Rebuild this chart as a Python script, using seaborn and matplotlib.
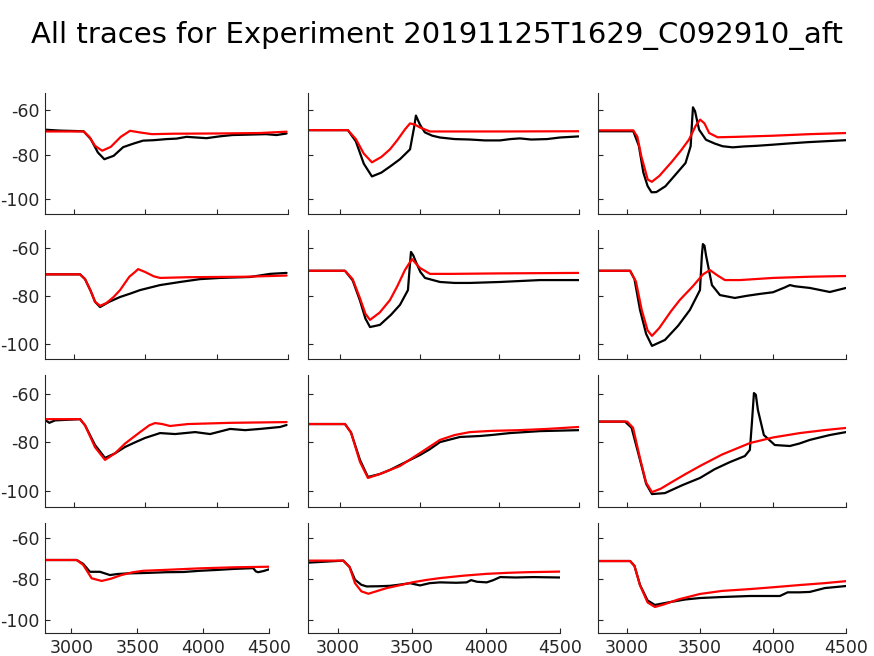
import matplotlib
matplotlib.use("Agg")
import matplotlib.pyplot as plt
import seaborn as sns
import pandas as pd

TITLE = "All traces for Experiment 20191125T1629_C092910_aft"
X_TICKS = [3000, 3500, 4000, 4500]
Y_TICKS = [-100, -80, -60]

# Panel data (black = recorded trace, red = model trace)
P1_BX = [2800, 2900, 3070, 3120, 3170, 3215, 3280, 3347, 3420, 3486, 3560, 3652, 3720, 3790, 3860, 3930, 4020, 4110, 4230, 4346, 4420, 4490]
P1_BY = [-68.8, -69.2, -69.5, -73, -79, -82, -80.5, -76.6, -75, -73.7, -73.5, -73, -72.8, -72, -72.3, -72.6, -71.8, -71.2, -71, -70.8, -71.2, -70.5]
P1_RX = [2800, 3070, 3110, 3150, 3200, 3260, 3330, 3395, 3460, 3548, 3700, 4000, 4300, 4490]
P1_RY = [-69.6, -69.6, -72, -76, -78.2, -76.5, -72, -69.3, -70, -70.8, -70.6, -70.5, -70.3, -69.7]

P2_BX = [2800, 3050, 3100, 3150, 3201, 3260, 3320, 3377, 3440, 3465, 3477, 3502, 3533, 3580, 3628, 3720, 3816, 3910, 4004, 4070, 4129, 4200, 4300, 4380, 4500]
P2_BY = [-69, -69, -74, -84, -89.7, -88, -85, -82, -77.6, -68, -62.5, -66.5, -70, -71.5, -72.3, -73, -73.2, -73.6, -73.6, -73, -72.7, -73.2, -73, -72.3, -71.8]
P2_RX = [2800, 3050, 3100, 3150, 3201, 3260, 3314, 3360, 3408, 3440, 3470, 3502, 3565, 3700, 4000, 4500]
P2_RY = [-69, -69, -73, -79.5, -83.4, -81, -77.6, -73.5, -68.7, -66, -66.5, -67.8, -69.6, -69.6, -69.6, -69.5]

P3_BX = [2800, 3042, 3080, 3111, 3140, 3167, 3200, 3262, 3330, 3400, 3435, 3445, 3451, 3465, 3480, 3493, 3540, 3600, 3654, 3724, 3800, 3890, 4000, 4100, 4233, 4350, 4500]
P3_BY = [-69.5, -69.5, -76, -88, -94, -96.8, -96.7, -94.1, -89, -83.7, -76.2, -65, -58.8, -60.5, -65, -68.8, -73.3, -75, -76.2, -76.7, -76.3, -76, -75.5, -75, -74.4, -74, -73.5]
P3_RX = [2800, 3042, 3070, 3097, 3141, 3169, 3220, 3308, 3370, 3423, 3470, 3500, 3530, 3562, 3620, 3750, 4000, 4250, 4500]
P3_RY = [-69.1, -69.1, -72, -80.7, -91.1, -92.1, -89.5, -83, -78, -73.3, -67, -64.3, -66, -70.3, -72.2, -72, -71.5, -70.8, -70.3]

P4_BX = [2800, 3045, 3080, 3120, 3150, 3185, 3250, 3325, 3400, 3465, 3605, 3745, 3885, 4025, 4235, 4375, 4490]
P4_BY = [-71, -71, -73, -78, -82.5, -84.7, -82.5, -80.5, -79, -77.6, -75.5, -74.2, -73, -72.5, -72.1, -70.8, -70.4]
P4_RX = [2800, 3045, 3080, 3120, 3150, 3185, 3230, 3280, 3325, 3390, 3430, 3451, 3500, 3560, 3605, 3800, 4200, 4490]
P4_RY = [-71, -71, -73, -78, -82.5, -84.2, -83, -80.5, -77.6, -72, -70, -68.8, -70, -71.8, -72.5, -72.2, -72, -71.5]

P5_BX = [2800, 3032, 3080, 3126, 3160, 3189, 3251, 3320, 3377, 3427, 3438, 3446, 3460, 3477, 3505, 3534, 3628, 3720, 3816, 4004, 4255, 4500]
P5_BY = [-69.5, -69.5, -73.5, -82, -89.5, -93.1, -92.2, -88, -83.8, -77.6, -68, -61.6, -63, -65.8, -70, -72.5, -74.2, -74.6, -74.6, -74.2, -73.4, -73.4]
P5_RX = [2800, 3032, 3080, 3126, 3160, 3189, 3250, 3314, 3360, 3408, 3452, 3502, 3565, 3700, 4000, 4500]
P5_RY = [-69.5, -69.5, -73, -81, -87.5, -90.1, -87, -81.8, -76, -69.2, -64.6, -68.3, -70.8, -70.8, -70.6, -70.4]

P6_BX = [2800, 3020, 3050, 3088, 3130, 3170, 3259, 3350, 3430, 3499, 3512, 3519, 3530, 3540, 3581, 3636, 3738, 3820, 3910, 4000, 4080, 4115, 4150, 4252, 4389, 4500]
P6_BY = [-69.5, -69.5, -73, -85.9, -96, -101, -98.5, -92.5, -85.9, -77.6, -63, -58.3, -59, -62.9, -75.5, -79.7, -80.9, -80, -79.2, -78.5, -76.5, -75.5, -76, -76.7, -78.4, -76.7]
P6_RX = [2800, 3020, 3060, 3100, 3140, 3170, 3220, 3300, 3360, 3450, 3520, 3567, 3620, 3670, 3773, 4000, 4250, 4500]
P6_RY = [-69.5, -69.5, -74, -86, -94.5, -96.8, -93.5, -86.5, -81.8, -76, -71, -69.2, -71.5, -73.4, -73.4, -72.5, -72, -71.7]

P7_BX = [2800, 2830, 2870, 3045, 3080, 3150, 3220, 3290, 3360, 3430, 3500, 3605, 3710, 3850, 3955, 4095, 4200, 4305, 4445, 4490]
P7_BY = [-70.8, -72, -71, -70.5, -73, -81.1, -86.4, -84.5, -81.9, -80, -78.2, -76.2, -76.6, -75.8, -76.6, -74.5, -75, -74.5, -73.7, -72.9]
P7_RX = [2800, 3045, 3080, 3150, 3220, 3290, 3360, 3465, 3530, 3570, 3620, 3675, 3800, 4100, 4490]
P7_RY = [-70.5, -70.5, -73, -82, -87.2, -84.5, -80.5, -75.8, -73, -72.1, -72.5, -73.3, -72.5, -72, -71.7]

P8_BX = [2800, 3032, 3070, 3126, 3176, 3250, 3314, 3400, 3502, 3560, 3628, 3753, 3878, 3950, 4067, 4255, 4500]
P8_BY = [-72.5, -72.5, -76, -87.2, -94.2, -93, -91.3, -88.5, -85.2, -83, -79.9, -77.8, -77.4, -77, -76.2, -75.4, -75]
P8_RX = [2800, 3032, 3070, 3126, 3176, 3250, 3377, 3500, 3628, 3720, 3816, 3950, 4129, 4300, 4500]
P8_RY = [-72.5, -72.5, -76, -88, -94.6, -93, -89.7, -84.5, -79, -77, -75.8, -75.3, -75, -74.5, -73.7]

P9_BX = [2800, 2985, 3030, 3088, 3130, 3170, 3259, 3380, 3499, 3600, 3704, 3807, 3841, 3855, 3869, 3882, 3896, 3937, 4012, 4115, 4180, 4252, 4389, 4500]
P9_BY = [-71.5, -71.5, -74, -87.2, -97, -101.2, -100.8, -97.5, -94.6, -91, -88.1, -85.6, -83.1, -72, -59.8, -60.5, -66.7, -77, -81.1, -81.5, -80.5, -79, -77, -75.8]
P9_RX = [2800, 3000, 3040, 3088, 3130, 3170, 3230, 3300, 3400, 3499, 3650, 3841, 4000, 4184, 4350, 4500]
P9_RY = [-71.5, -71.5, -74, -86.5, -96.5, -100.4, -99, -96.5, -93, -89.7, -85, -80.3, -78, -76.2, -75, -74.1]

P10_BX = [2800, 3040, 3090, 3141, 3217, 3293, 3350, 3420, 3550, 3724, 3850, 3976, 4100, 4229, 4380, 4400, 4418, 4460, 4500]
P10_BY = [-70.6, -70.6, -72.5, -76.4, -76.4, -78, -77.5, -77.2, -77, -76.6, -76.5, -75.9, -75.5, -75, -74.6, -76.2, -76.6, -76, -75.2]
P10_RX = [2800, 3040, 3090, 3154, 3230, 3300, 3380, 3468, 3546, 3700, 3976, 4229, 4500]
P10_RY = [-70.6, -70.6, -73, -79.6, -80.9, -79.8, -78, -76.6, -75.9, -75.5, -74.7, -74.2, -73.9]

P11_BX = [2800, 3038, 3080, 3117, 3160, 3196, 3280, 3353, 3420, 3488, 3556, 3620, 3690, 3800, 3870, 3900, 3940, 4006, 4050, 4096, 4200, 4321, 4500]
P11_BY = [-71.9, -70.9, -74, -80.3, -82.8, -83.6, -83.5, -83.3, -82.7, -82, -83.1, -82, -81.6, -81.8, -81.6, -80.5, -81.3, -81.6, -80.5, -79, -79.2, -79, -79.2]
P11_RX = [2800, 3038, 3080, 3117, 3160, 3207, 3260, 3331, 3420, 3510, 3600, 3690, 3850, 4006, 4150, 4276, 4500]
P11_RY = [-70.9, -70.9, -74, -82, -86, -87.2, -86, -84.4, -83, -81.5, -80.4, -79.5, -78.3, -77.4, -76.9, -76.6, -76.3]

P12_BX = [2800, 3020, 3050, 3088, 3140, 3190, 3293, 3400, 3499, 3650, 3841, 4047, 4100, 4180, 4252, 4355, 4500]
P12_BY = [-71.1, -71.1, -73.5, -82.9, -90.5, -92.7, -91.3, -90, -89.3, -88.8, -88.3, -88.3, -86.5, -86.5, -86.3, -84.4, -83.4]
P12_RX = [2800, 3020, 3050, 3088, 3140, 3190, 3250, 3350, 3499, 3650, 3841, 4000, 4184, 4350, 4500]
P12_RY = [-71.1, -71.1, -73.5, -83, -91.5, -93.7, -92.5, -90, -87.3, -85.8, -84.9, -84, -82.9, -82, -81]

PANELS = [
    (P1_BX, P1_BY, P1_RX, P1_RY), (P2_BX, P2_BY, P2_RX, P2_RY), (P3_BX, P3_BY, P3_RX, P3_RY),
    (P4_BX, P4_BY, P4_RX, P4_RY), (P5_BX, P5_BY, P5_RX, P5_RY), (P6_BX, P6_BY, P6_RX, P6_RY),
    (P7_BX, P7_BY, P7_RX, P7_RY), (P8_BX, P8_BY, P8_RX, P8_RY), (P9_BX, P9_BY, P9_RX, P9_RY),
    (P10_BX, P10_BY, P10_RX, P10_RY), (P11_BX, P11_BY, P11_RX, P11_RY), (P12_BX, P12_BY, P12_RX, P12_RY),
]

sns.set_style("ticks")
plt.rcParams["font.family"] = ["DejaVu Sans"]
plt.rcParams["axes.unicode_minus"] = False
TXT = "#262626"

W, H = 874, 656
fig = plt.figure(figsize=(W / 100, H / 100), dpi=100)

COLS_TOP = [(45, 288), (308, 579), (598, 846)]
COLS_BOT = [(45, 269), (308, 560), (598, 846)]
ROWS = [(93, 214), (230, 359), (375, 507), (523, 633)]

for i, (bx, by, rx, ry) in enumerate(PANELS):
    r, c = divmod(i, 3)
    cl, cr = (COLS_BOT if r == 3 else COLS_TOP)[c]
    rt, rb = ROWS[r]
    ax = fig.add_axes([cl / W, 1 - rb / H, (cr - cl) / W, (rb - rt) / H])
    dfb = pd.DataFrame({"x": bx, "y": by})
    dfr = pd.DataFrame({"x": rx, "y": ry})
    sns.lineplot(data=dfb, x="x", y="y", ax=ax, color="black", linewidth=1.6,
                 sort=False, estimator=None)
    sns.lineplot(data=dfr, x="x", y="y", ax=ax, color="#ff0000", linewidth=1.6,
                 sort=False, estimator=None)
    ax.set_xlim(2800, 4500)
    ax.set_ylim(-106.5, -52.4)
    ax.set_xticks(X_TICKS)
    ax.set_yticks(Y_TICKS)
    ax.set_xlabel("")
    ax.set_ylabel("")
    for s in ["top", "right"]:
        ax.spines[s].set_visible(False)
    for s in ["left", "bottom"]:
        ax.spines[s].set_color(TXT)
        ax.spines[s].set_linewidth(0.8)
    ax.tick_params(direction="in", length=3.5, width=0.8, color=TXT,
                   labelcolor=TXT, labelsize=12.5, pad=4)
    if c != 0:
        ax.tick_params(axis="y", labelleft=False)
    if r != 3:
        ax.tick_params(axis="x", labelbottom=False)
    ax.patch.set_alpha(0)

fig.text(0.5, 1 - 35 / H, TITLE, ha="center", va="center", fontsize=21, color="black")

fig.savefig("out.png", dpi=100)
